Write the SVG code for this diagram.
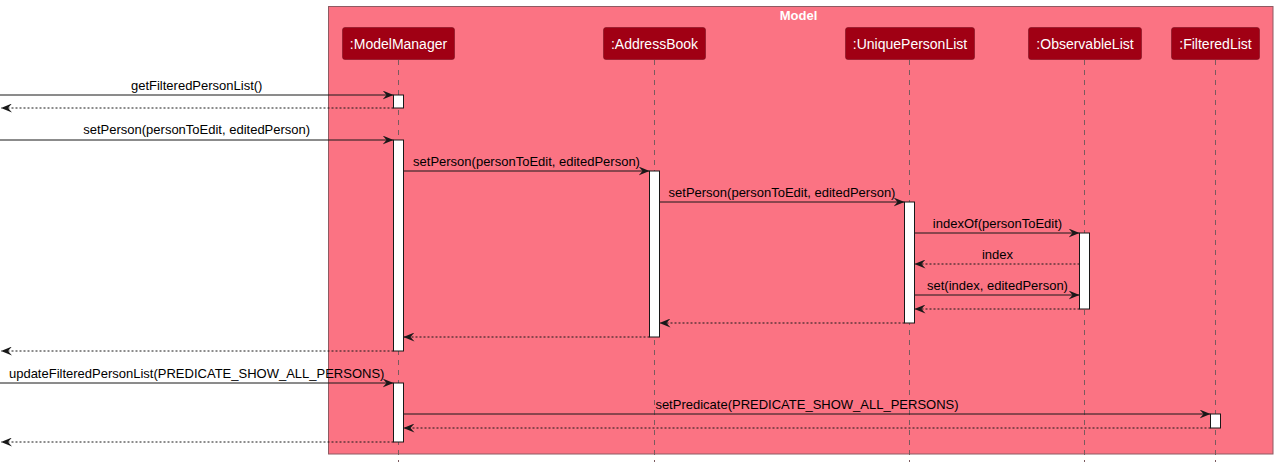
<svg xmlns="http://www.w3.org/2000/svg" width="1278" height="466" viewBox="0 0 1278 466">
<style>
.frame{fill:#FB7383;stroke:#8E5A62;stroke-width:1}
.ftitle{font-family:"Liberation Sans",Arial,sans-serif;font-size:13px;font-weight:bold;fill:#FFFFFF}
.pbox{fill:#A00014;stroke:#7A1020;stroke-width:0.6}
.ptext{font-family:"Liberation Sans",Arial,sans-serif;font-size:14px;fill:#FFFFFF;text-anchor:middle}
.life{stroke:#7A5A5E;stroke-width:1;stroke-dasharray:5,5}
.act{fill:#FFFFFF;stroke:#181818;stroke-width:1}
.msg{stroke:#181818;stroke-width:1;fill:none;marker-end:url(#ah)}
.ret{stroke:#181818;stroke-width:1;fill:none;stroke-dasharray:2,2;marker-end:url(#ah)}
.lbl{font-family:"Liberation Sans",Arial,sans-serif;font-size:13px;fill:#000000;text-anchor:middle}
</style>
<defs>
<marker id="ah" viewBox="0 0 11 9" refX="11" refY="4.5" markerWidth="11" markerHeight="9" markerUnits="userSpaceOnUse" orient="auto">
<path d="M0,0 L11,4.5 L0,9 L4,4.5 Z" fill="#181818"/>
</marker>
</defs>
<g id="frame-model">
<rect class="frame" x="328.5" y="6.5" width="944.5" height="447.5"/>
<text class="ftitle" x="798.5" y="20" text-anchor="middle">Model</text>
</g>
<g id="lifelines">
<line class="life" x1="398.5" y1="60" x2="398.5" y2="462"/>
<line class="life" x1="654.5" y1="60" x2="654.5" y2="462"/>
<line class="life" x1="909.5" y1="60" x2="909.5" y2="462"/>
<line class="life" x1="1084.5" y1="60" x2="1084.5" y2="462"/>
<line class="life" x1="1215.5" y1="60" x2="1215.5" y2="462"/>
</g>
<g id="ModelManager">
<rect class="pbox" x="342.5" y="27.5" width="112" height="32" rx="2.5"/>
<text class="ptext" x="398.5" y="49">:ModelManager</text>
</g>
<g id="AddressBook">
<rect class="pbox" x="603.5" y="27.5" width="102" height="32" rx="2.5"/>
<text class="ptext" x="654.5" y="49">:AddressBook</text>
</g>
<g id="UniquePersonList">
<rect class="pbox" x="845.5" y="27.5" width="129" height="32" rx="2.5"/>
<text class="ptext" x="910" y="49">:UniquePersonList</text>
</g>
<g id="ObservableList">
<rect class="pbox" x="1028.5" y="27.5" width="113" height="32" rx="2.5"/>
<text class="ptext" x="1085" y="49">:ObservableList</text>
</g>
<g id="FilteredList">
<rect class="pbox" x="1171.5" y="27.5" width="88" height="32" rx="2.5"/>
<text class="ptext" x="1215.5" y="49">:FilteredList</text>
</g>
<g id="activations">
<rect class="act" x="393.5" y="95" width="10" height="13"/>
<rect class="act" x="393.5" y="140" width="10" height="211"/>
<rect class="act" x="649.5" y="171" width="10" height="166"/>
<rect class="act" x="904.5" y="202" width="10" height="121"/>
<rect class="act" x="1079.5" y="233" width="10" height="76"/>
<rect class="act" x="393.5" y="383" width="10" height="59"/>
<rect class="act" x="1210.5" y="414" width="10" height="14"/>
</g>
<g id="connectors">
<line class="msg" x1="0" y1="95" x2="393.5" y2="95"/>
<text class="lbl" x="196.7" y="90">getFilteredPersonList()</text>
<line class="ret" x1="393.5" y1="108" x2="1" y2="108"/>
<line class="msg" x1="0" y1="140" x2="393.5" y2="140"/>
<text class="lbl" x="196.7" y="134">setPerson(personToEdit, editedPerson)</text>
<line class="msg" x1="403.5" y1="171" x2="649.5" y2="171"/>
<text class="lbl" x="526.5" y="166">setPerson(personToEdit, editedPerson)</text>
<line class="msg" x1="659.5" y1="202" x2="904.5" y2="202"/>
<text class="lbl" x="782" y="197">setPerson(personToEdit, editedPerson)</text>
<line class="msg" x1="914.5" y1="233" x2="1079.5" y2="233"/>
<text class="lbl" x="997.5" y="228">indexOf(personToEdit)</text>
<line class="ret" x1="1079.5" y1="264" x2="914.5" y2="264"/>
<text class="lbl" x="997.5" y="259">index</text>
<line class="msg" x1="914.5" y1="295" x2="1079.5" y2="295"/>
<text class="lbl" x="997.5" y="290">set(index, editedPerson)</text>
<line class="ret" x1="1079.5" y1="309" x2="914.5" y2="309"/>
<line class="ret" x1="904.5" y1="323" x2="659.5" y2="323"/>
<line class="ret" x1="649.5" y1="337" x2="403.5" y2="337"/>
<line class="ret" x1="393.5" y1="351" x2="1" y2="351"/>
<line class="msg" x1="0" y1="383" x2="393.5" y2="383"/>
<text class="lbl" x="196.7" y="378">updateFilteredPersonList(PREDICATE_SHOW_ALL_PERSONS)</text>
<line class="msg" x1="403.5" y1="414" x2="1210.5" y2="414"/>
<text class="lbl" x="807" y="409">setPredicate(PREDICATE_SHOW_ALL_PERSONS)</text>
<line class="ret" x1="1210.5" y1="428" x2="403.5" y2="428"/>
<line class="ret" x1="393.5" y1="442" x2="1" y2="442"/>
</g>
</svg>
